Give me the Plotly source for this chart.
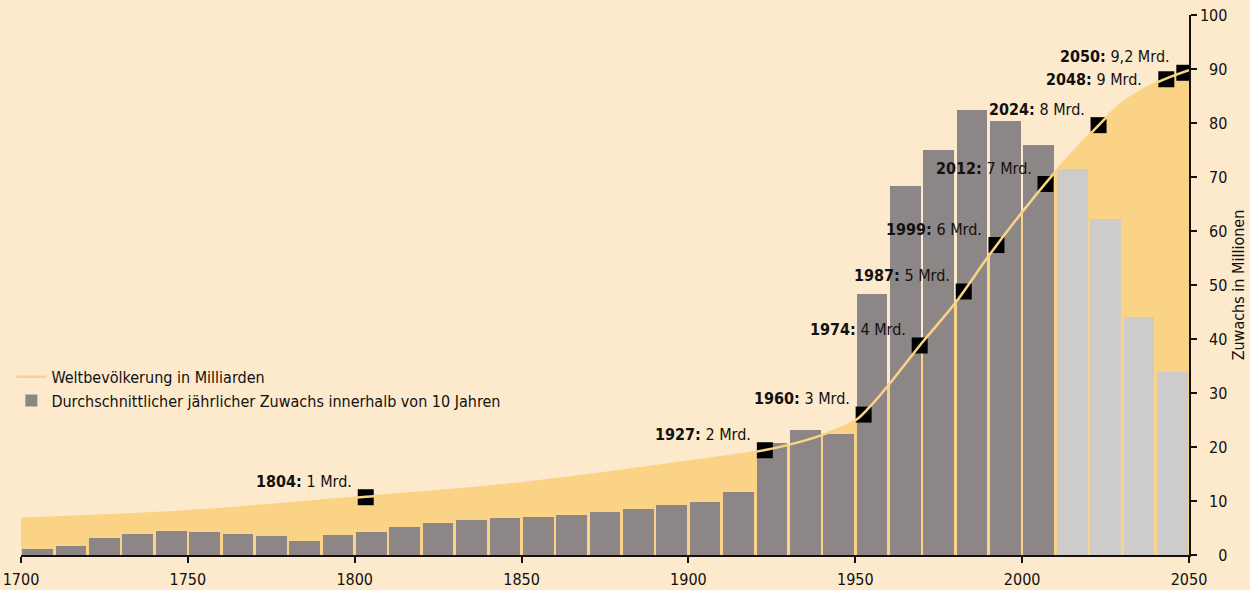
import plotly.graph_objects as go

# ---- data ----
decades = list(range(1700, 2050, 10))
growth_hist = [1.1, 1.7, 3.1, 3.9, 4.4, 4.3, 3.9, 3.5, 2.6, 3.7,
               4.3, 5.2, 5.9, 6.5, 6.9, 7.0, 7.4, 8.0, 8.5, 9.3,
               9.8, 11.7, 20.7, 23.1, 22.5, 48.3, 68.3, 75.0, 82.4, 80.4,
               75.9]
growth_proj = [71.4, 62.2, 44.1, 33.9]

pop_years = [1700, 1750, 1800, 1850, 1900, 1920, 1930, 1940, 1950, 1955,
             1960, 1970, 1980, 1990, 2000, 2010, 2020, 2030, 2040, 2050]
pop_scaled = [6.7, 8.1, 10.6, 13.3, 17.3, 19.1, 20.4, 22.2, 24.9, 27.9,
              31.5, 39.3, 46.7, 55.4, 63.5, 71.0, 77.7, 83.7, 87.4, 89.8]

ms_year_label = ["1804", "1927", "1960", "1974", "1987", "1999", "2012", "2024", "2048", "2050"]
ms_pop_label = ["1 Mrd.", "2 Mrd.", "3 Mrd.", "4 Mrd.", "5 Mrd.", "6 Mrd.", "7 Mrd.", "8 Mrd.", "9 Mrd.", "9,2 Mrd."]
ms_x = [1803.3, 1922.9, 1952.5, 1969.3, 1982.5, 1992.3, 2007.0, 2022.9, 2043.2, 2048.6]
ms_y = [10.7, 19.4, 26.0, 38.8, 48.8, 57.4, 68.7, 79.6, 88.1, 89.3]

x_ticks = [1700, 1750, 1800, 1850, 1900, 1950, 2000, 2050]
y_ticks = [0, 10, 20, 30, 40, 50, 60, 70, 80, 90, 100]

# ---- style ----
BG = "#fdeacd"
FILL = "#fbd386"
DARK = "#8c8686"
LIGHT = "#cdcccb"
FONT = "Liberation Sans Narrow, DejaVu Sans Condensed, Arial Narrow, sans-serif"
FS = 16
XR = [1700, 2050]
YR = [0, 100]

hist_x = [d + 5 for d in decades[:len(growth_hist)]]
proj_x = [d + 5 for d in decades[len(growth_hist):]]

fig = go.Figure()
# base subplot: area fill only (drawn underneath)
fig.add_trace(go.Scatter(x=pop_years, y=pop_scaled, mode="lines", fill="tozeroy",
                         fillcolor=FILL, line=dict(color=FILL, width=0, shape="spline"),
                         showlegend=False, hoverinfo="skip", xaxis="x", yaxis="y"))
# overlay subplot: bars, markers, line
fig.add_trace(go.Bar(x=hist_x, y=growth_hist, width=9.2, marker=dict(color=DARK, line=dict(width=0)),
                     name="Durchschnittlicher jährlicher Zuwachs innerhalb von 10 Jahren",
                     legendrank=2, xaxis="x2", yaxis="y2"))
fig.add_trace(go.Bar(x=proj_x, y=growth_proj, width=9.2, marker=dict(color=LIGHT, line=dict(width=0)),
                     showlegend=False, xaxis="x2", yaxis="y2"))
fig.add_trace(go.Scatter(x=ms_x, y=ms_y, mode="markers",
                         marker=dict(symbol="square", size=16, color="black", line=dict(width=0)),
                         showlegend=False, xaxis="x2", yaxis="y2"))
fig.add_trace(go.Scatter(x=pop_years, y=pop_scaled, mode="lines",
                         line=dict(color=FILL, width=2.5, shape="spline"),
                         name="Weltbevölkerung in Milliarden", legendrank=1, xaxis="x2", yaxis="y2"))

for lab, pl, x, y in zip(ms_year_label, ms_pop_label, ms_x, ms_y):
    if lab == "2048":
        xs, ys = -22, 0
    else:
        xs, ys = -12, 16
    fig.add_annotation(x=x, y=y, xref="x2", yref="y2", text=f"<b>{lab}:</b> {pl}", showarrow=False,
                       xanchor="right", yanchor="middle", xshift=xs, yshift=ys,
                       font=dict(family=FONT, size=FS, color="#111"))

y_ticktext = [("\u2007" * (3 - len(str(v)))) + str(v) for v in y_ticks]

fig.update_layout(
    width=1250, height=590,
    paper_bgcolor=BG, plot_bgcolor=BG,
    margin=dict(l=21, r=61, t=15, b=35, autoexpand=False),
    barmode="overlay", bargap=0,
    font=dict(family=FONT, size=FS, color="#111"),
    showlegend=True,
    legend=dict(xref="container", yref="container", x=0.0091, y=0.390, xanchor="left", yanchor="top",
                bgcolor="rgba(0,0,0,0)", font=dict(family=FONT, size=FS, color="#111"),
                tracegroupgap=0, itemwidth=30),
    xaxis=dict(range=XR, visible=False, fixedrange=True),
    yaxis=dict(range=YR, visible=False, fixedrange=True),
    xaxis2=dict(range=XR, overlaying="x", anchor="y2", tickvals=x_ticks, ticks="outside", ticklen=6,
                tickwidth=1.5, tickcolor="#111", showline=True, linecolor="#111", linewidth=1.5,
                showgrid=False, zeroline=False, fixedrange=True, automargin=False,
                ticklabelstandoff=3),
    yaxis2=dict(range=YR, overlaying="y", anchor="x2", side="right", tickvals=y_ticks,
                ticktext=y_ticktext, ticks="outside", ticklen=6, tickwidth=1.5, tickcolor="#111",
                showline=True, linecolor="#111", linewidth=1.5, showgrid=False, zeroline=False,
                automargin=False, fixedrange=True,
                title=dict(text="Zuwachs in Millionen", standoff=6, font=dict(size=FS))),
)

fig.write_html("out.html", config={"displayModeBar": False},
               post_script="document.body.style.margin='0';document.body.style.overflow='hidden';")
